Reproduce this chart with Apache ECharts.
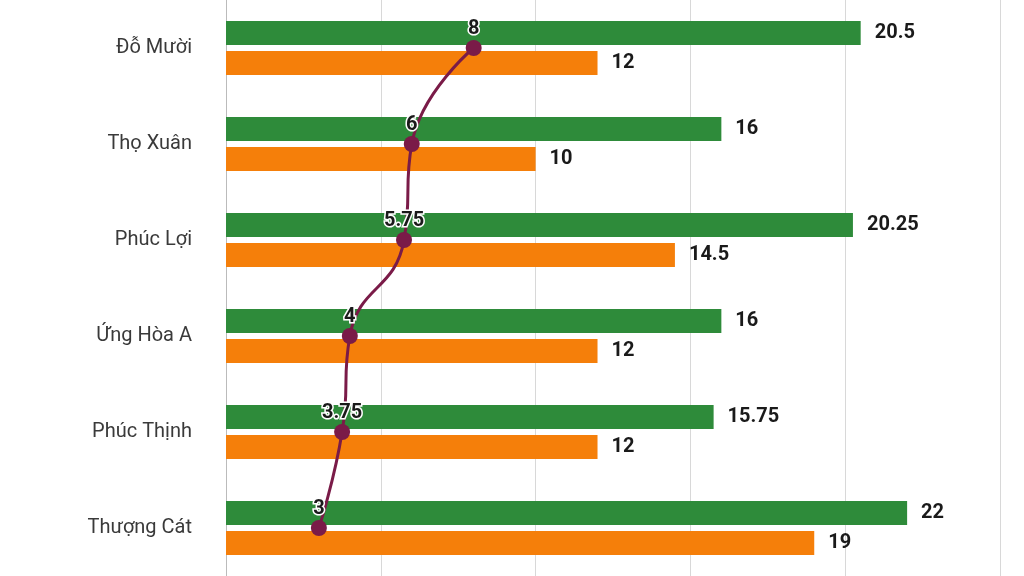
<!DOCTYPE html>
<html><head><meta charset="utf-8">
<script src="https://cdn.jsdelivr.net/npm/echarts@6/dist/echarts.min.js"></script>
<style>html,body{margin:0;padding:0;background:#fff}#c{width:1024px;height:576px}</style>
</head><body><div id="c"></div>
<script>
const categories = ['Đỗ Mười','Thọ Xuân','Phúc Lợi','Ứng Hòa A','Phúc Thịnh','Thượng Cát'];
const greenValues = [20.5,16,20.25,16,15.75,22];
const orangeValues = [12,10,14.5,12,12,19];
const lineValues = [8,6,5.75,4,3.75,3];
const chart = echarts.init(document.getElementById('c'));
const barLabel = {show:true,position:'right',color:'#1a1a1a',fontWeight:'bold',fontSize:20,fontFamily:'Roboto',distance:14};
chart.setOption({
  animation:false,
  grid:{left:226,right:24,top:-6,bottom:-8},
  xAxis:{type:'value',min:0,max:25,interval:5,axisLabel:{show:false},axisLine:{show:false},axisTick:{show:false},
    splitLine:{lineStyle:{color:'#d8d8d8'}}},
  yAxis:{type:'category',data:categories,inverse:true,axisTick:{show:false},
    axisLine:{lineStyle:{color:'#bbb'}},
    axisLabel:{fontSize:20,color:'#3a3a3a',fontFamily:'Roboto',margin:34}},
  series:[
    {type:'bar',data:greenValues,barWidth:24,barGap:'25%',itemStyle:{color:'#2e8b3a'},label:barLabel},
    {type:'bar',data:orangeValues,barWidth:24,itemStyle:{color:'#f57f0a'},label:barLabel},
    {type:'line',data:lineValues,smooth:true,symbol:'circle',symbolSize:16,z:10,
      lineStyle:{color:'#7a1b48',width:3},itemStyle:{color:'#7a1b48'},
      label:{show:true,position:'top',distance:1,color:'#1a1a1a',fontWeight:'bold',fontSize:20,fontFamily:'Roboto',
        textBorderColor:'#fff',textBorderWidth:3}}
  ]
});
</script></body></html>
